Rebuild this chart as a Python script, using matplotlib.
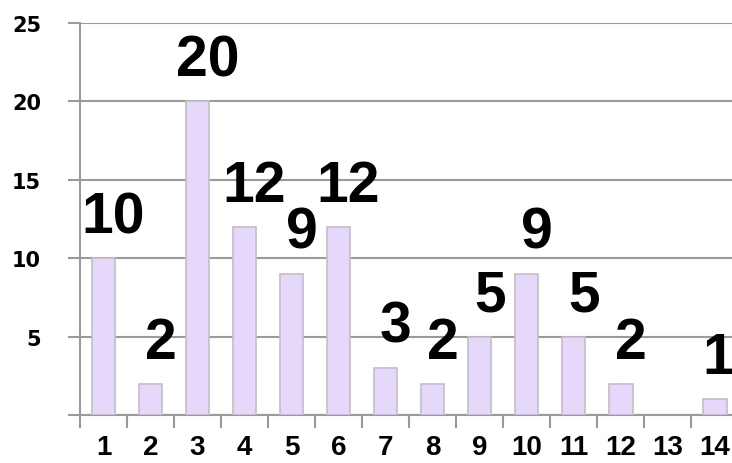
import matplotlib
matplotlib.use("Agg")
import matplotlib.pyplot as plt
from matplotlib.ticker import FixedLocator, NullFormatter

categories = ["1", "2", "3", "4", "5", "6", "7", "8", "9", "10", "11", "12", "13", "14"]
values = [10, 2, 20, 12, 9, 12, 3, 2, 5, 9, 5, 2, 0, 1]
yticks = [0, 5, 10, 15, 20, 25]
ytick_labels = ["", "5", "10", "15", "20", "25"]

lab_fam = ["Liberation Sans", "DejaVu Sans"]

fig = plt.figure(figsize=(7.32, 4.64), dpi=100)
ax = fig.add_axes([80/732, 48/464, 658.3/732, 392/464])

x = list(range(1, len(categories) + 1))
bars = ax.bar(x, values, width=0.5, color="#E6D8FA", edgecolor="#C4BCC8", linewidth=1.2, zorder=3)
for b, v in zip(bars, values):
    if v == 0:
        b.set_visible(False)

ax.set_xlim(0.5, len(categories) + 0.5)
ax.set_ylim(0, 25)

grid_c = "#9A9A9A"
ax.set_yticks(yticks)
ax.set_yticklabels(ytick_labels, fontsize=15, fontweight="bold", family=["DejaVu Sans"])
ax.yaxis.grid(True, color=grid_c, linewidth=1.5, zorder=0)
ax.tick_params(axis="y", length=9, width=1.5, color=grid_c, pad=19)

ax.set_xticks(x)
ax.set_xticklabels(categories, fontsize=20, fontweight="bold", family=lab_fam)
ax.tick_params(axis="x", which="major", length=0, pad=13.5)
ax.xaxis.set_minor_locator(FixedLocator([i + 0.5 for i in range(0, len(categories) + 1)]))
ax.xaxis.set_minor_formatter(NullFormatter())
ax.tick_params(axis="x", which="minor", length=9, width=1.5, color=grid_c)

for s in ["top", "right"]:
    ax.spines[s].set_visible(False)
for s in ["left", "bottom"]:
    ax.spines[s].set_color(grid_c)
    ax.spines[s].set_linewidth(1.5)

n = len(values)
for i, (xi, v) in enumerate(zip(x, values)):
    if v == 0:
        continue
    dx = 7.2 if i < n - 1 else 2.5
    ax.annotate(str(v), (xi, v), xytext=(dx, 18.7), textcoords="offset points",
                ha="center", va="baseline", fontsize=41, fontweight="bold", family=lab_fam,
                annotation_clip=False, zorder=5)

fig.savefig("out.png", dpi=100)
